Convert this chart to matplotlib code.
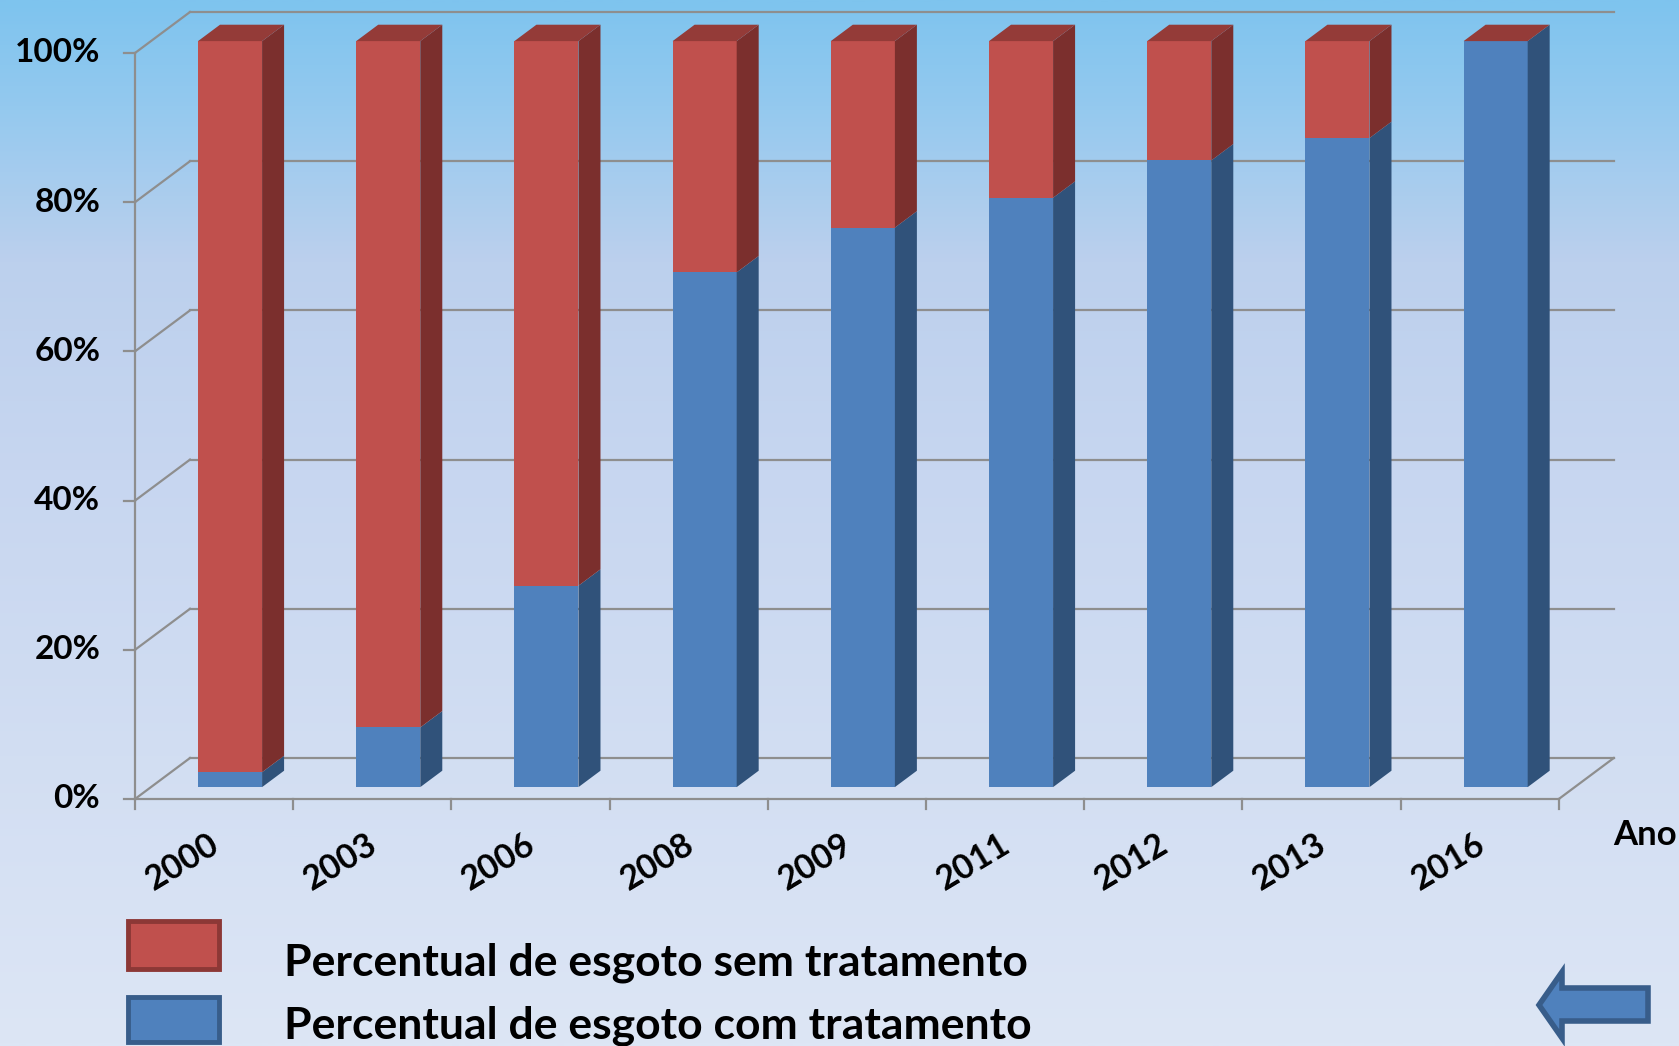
import numpy as np
import matplotlib
matplotlib.use("Agg")
import matplotlib.pyplot as plt
from matplotlib.patches import Polygon, Rectangle
from matplotlib.colors import LinearSegmentedColormap

# ---------------- data ----------------
years = ['2000', '2003', '2006', '2008', '2009', '2011', '2012', '2013', '2016']
com_tratamento = [2, 8, 27, 69, 75, 79, 84, 87, 100]
sem_tratamento = [98, 92, 73, 31, 25, 21, 16, 13, 0]
y_ticks = [0, 20, 40, 60, 80, 100]
y_ticklabels = ['0%', '20%', '40%', '60%', '80%', '100%']
legend_labels = ['Percentual de esgoto sem tratamento',
                 'Percentual de esgoto com tratamento']
axis_label = 'Ano'

# ---------------- style ----------------
FONT = ['Lato', 'DejaVu Sans']
plt.rcParams['font.family'] = FONT
RED = dict(front='#C0504D', side='#7B2F2D', top='#943B38', edge='#8C3836')
BLUE = dict(front='#4F81BD', side='#30527A', top='#3D679A', edge='#385D8A')
GRID = '#8E8E8E'

W, H = 1679, 1046
fig = plt.figure(figsize=(W / 100, H / 100), dpi=100)

# background gradient
bg = fig.add_axes([0, 0, 1, 1])
stops = [(0.0, (126, 196, 238)), (0.10, (148, 201, 239)), (0.25, (188, 208, 237)),
         (0.45, (199, 214, 240)), (1.0, (221, 230, 245))]
cmap = LinearSegmentedColormap.from_list(
    'bg', [(s, tuple(c / 255 for c in col)) for s, col in stops])
grad = np.linspace(0, 1, 512).reshape(-1, 1)
bg.imshow(grad, aspect='auto', cmap=cmap, extent=[0, 1, 1, 0])
bg.set_axis_off()

# main axes (category units on x, percent on y)
ax = fig.add_axes([0, 0, 1, 1])
ax.set_facecolor('none')
ax.set_axis_off()
px_per_cat = 158.2
px_per_pct = 7.46
x0_px, y0_px = 135, 799
ax.set_xlim(-x0_px / px_per_cat - 0.5, (W - x0_px) / px_per_cat - 0.5)
ax.set_ylim((y0_px - H) / px_per_pct, y0_px / px_per_pct)

n = len(years)
DX, DY = 55 / px_per_cat, 41 / px_per_pct      # full depth vector
left_edge, right_edge = -0.5, n - 0.5

# walls / gridlines
lw = 1.6
for t in y_ticks:
    ax.plot([left_edge, left_edge + DX], [t, t + DY], color=GRID, lw=lw, zorder=1)
    ax.plot([left_edge + DX, right_edge + DX], [t + DY, t + DY], color=GRID, lw=lw, zorder=1)
    ax.plot([left_edge - 0.07, left_edge], [t, t], color=GRID, lw=lw, zorder=1)
ax.plot([left_edge, left_edge], [0, 100], color=GRID, lw=lw, zorder=1)
ax.plot([left_edge, right_edge], [0, 0], color=GRID, lw=lw, zorder=1)
ax.plot([right_edge, right_edge + DX], [0, DY], color=GRID, lw=lw, zorder=1)
for k in range(n + 1):
    ax.plot([left_edge + k, left_edge + k], [0, -1.4], color=GRID, lw=lw, zorder=1)

# 3D bars
bar_w = 0.405
d0, d1 = 0.29, 0.69
ox, oy = d0 * DX, d0 * DY
sx, sy = (d1 - d0) * DX, (d1 - d0) * DY


def draw_segment(i, bottom, height, col, is_top):
    xl = i + ox - bar_w / 2
    xr = xl + bar_w
    yb = bottom + oy
    yt = yb + height
    if height > 0:
        ax.add_patch(Rectangle((xl, yb), bar_w, height, facecolor=col['front'],
                               edgecolor='none', zorder=3))
        ax.add_patch(Polygon([(xr, yb), (xr + sx, yb + sy), (xr + sx, yt + sy), (xr, yt)],
                             closed=True, facecolor=col['side'], edgecolor='none', zorder=3))
    if is_top:
        ax.add_patch(Polygon([(xl, yt), (xl + sx, yt + sy), (xr + sx, yt + sy), (xr, yt)],
                             closed=True, facecolor=col['top'], edgecolor='none', zorder=3))


for i in range(n):
    draw_segment(i, 0, com_tratamento[i], BLUE, False)
    draw_segment(i, com_tratamento[i], sem_tratamento[i], RED, True)

# tick labels
for t, lab in zip(y_ticks, y_ticklabels):
    ax.text(left_edge - 0.22, t, lab, ha='right', va='center', fontsize=24,
            fontweight='bold', color='black', zorder=5)
for i, lab in enumerate(years):
    ax.text(i - 0.2, -8.5, lab, ha='center', va='center', rotation=31,
            fontsize=24.5, fontweight='bold', color='black', zorder=5)
ax.text(9.045, -4.8, axis_label, ha='center', va='center', fontsize=25,
        fontweight='bold', color='black', zorder=5)

# legend (manual, in figure pixels)
def fx(px):
    return px / W


def fy(py):
    return 1 - py / H


for (top_px, bot_px), col, lab, ty in zip([(921, 969), (997, 1042)], [RED, BLUE],
                                          legend_labels, [963, 1026]):
    fig.patches.append(Rectangle((fx(128), fy(bot_px)), fx(219) - fx(128),
                                 fy(top_px) - fy(bot_px), transform=fig.transFigure,
                                 facecolor=col['front'], edgecolor=col['edge'],
                                 linewidth=3.5, zorder=6))
    fig.text(fx(284), fy(ty), lab, ha='left', va='center', fontsize=32,
             fontweight='bold', color='black', zorder=6)

# decorative back arrow
arrow_pts = [(1648, 988), (1562, 988), (1562, 972), (1539, 1005), (1562, 1038),
             (1562, 1021), (1648, 1021)]
fig.patches.append(Polygon([(fx(x), fy(y)) for x, y in arrow_pts], closed=True,
                           transform=fig.transFigure, facecolor='#4F81BD',
                           edgecolor='#385D8A', linewidth=4, joinstyle='miter', zorder=6))

fig.savefig('out.png', dpi=100)
